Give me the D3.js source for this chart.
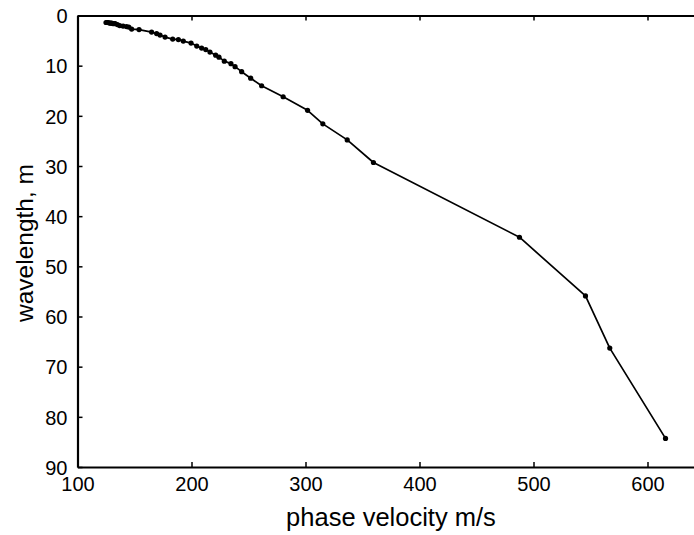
<!DOCTYPE html>
<html>
<head>
<meta charset="utf-8">
<script src="https://cdn.jsdelivr.net/npm/d3@7"></script>
<style>
  html, body { margin: 0; padding: 0; background: #fff; }
  svg { display: block; }
  text { font-family: "Liberation Sans", Arial, sans-serif; fill: #000; }
</style>
</head>
<body>
<svg id="chart" width="694" height="535"></svg>
<script>
// ---- data ----
const phaseVelocity = [125, 126, 127, 128, 129, 130, 131, 132, 133, 135, 137, 140, 143, 145, 147.5,
  154, 165, 169.4, 172.4, 176.8, 183.5, 188.5, 192.8, 199.6, 204.6, 208.9, 212.5, 216.2, 221.2,
  224.1, 228.8, 234.6, 238.2, 244, 251.9, 261.5, 280.4, 301.8, 315.2, 336.6, 359.6, 487.7, 545.6,
  566.9, 615.8];
const wavelength = [1.4, 1.4, 1.4, 1.5, 1.5, 1.5, 1.6, 1.6, 1.6, 1.8, 2.0, 2.1, 2.2, 2.3, 2.7,
  2.8, 3.3, 3.6, 3.9, 4.3, 4.7, 4.8, 5.1, 5.5, 6.1, 6.5, 6.8, 7.3, 7.9,
  8.3, 9.1, 9.6, 10.2, 11.2, 12.5, 14.0, 16.2, 18.9, 21.6, 24.8, 29.3, 44.2, 55.9,
  66.3, 84.3];
const xTicks = [100, 200, 300, 400, 500, 600];
const yTicks = [0, 10, 20, 30, 40, 50, 60, 70, 80, 90];
const xLabel = "phase velocity m/s";
const yLabel = "wavelength, m";

(function () {
// ---- layout ----
const svg = d3.select("#chart");
const mLeft = 77.5, mTop = 15.5, mBottom = 467, mRight = 704.5;
const x = d3.scaleLinear().domain([100, 650]).range([mLeft, mRight]);
const y = d3.scaleLinear().domain([0, 90]).range([mTop, mBottom]);

const points = phaseVelocity.map((v, i) => ({ v, w: wavelength[i] }));

// line
svg.append("path")
  .datum(points)
  .attr("fill", "none")
  .attr("stroke", "#000")
  .attr("stroke-width", 1.7)
  .attr("stroke-linejoin", "round")
  .attr("d", d3.line().x(d => x(d.v)).y(d => y(d.w)));

// markers
svg.append("g").selectAll("circle")
  .data(points)
  .join("circle")
  .attr("cx", d => x(d.v))
  .attr("cy", d => y(d.w))
  .attr("r", 2.6)
  .attr("fill", "#000");

// axes
const tickLen = 5;
const gx = svg.append("g").attr("transform", `translate(0,${mBottom})`)
  .call(d3.axisBottom(x).tickValues(xTicks).tickSizeInner(-tickLen).tickSizeOuter(0).tickPadding(10));
const gxTop = svg.append("g").attr("transform", `translate(0,${mTop})`)
  .call(d3.axisTop(x).tickValues(xTicks).tickSizeInner(-tickLen).tickSizeOuter(0).tickFormat(""));
const gy = svg.append("g").attr("transform", `translate(${mLeft},0)`)
  .call(d3.axisLeft(y).tickValues(yTicks).tickSizeInner(-tickLen).tickSizeOuter(0).tickPadding(10));
const gyR = svg.append("g").attr("transform", `translate(${mRight},0)`)
  .call(d3.axisRight(y).tickValues(yTicks).tickSizeInner(-tickLen).tickSizeOuter(0).tickFormat(""));

[gx, gxTop, gy, gyR].forEach(g => {
  g.select(".domain").attr("stroke", "#000").attr("stroke-width", 2.2);
  g.selectAll(".tick line").attr("stroke", "#000").attr("stroke-width", 1.5);
  g.selectAll(".tick text").attr("font-size", 20).attr("font-family", "Liberation Sans, Arial, sans-serif").attr("fill", "#000");
});
gy.selectAll(".tick text").attr("dy", "0.36em");

// axis titles
svg.append("text")
  .attr("x", (mLeft + mRight) / 2)
  .attr("y", 526)
  .attr("text-anchor", "middle")
  .attr("font-size", 25.5)
  .text(xLabel);

svg.append("text")
  .attr("transform", `translate(33,243) rotate(-90)`)
  .attr("text-anchor", "middle")
  .attr("font-size", 24.5)
  .text(yLabel);
})();
</script>
</body>
</html>
